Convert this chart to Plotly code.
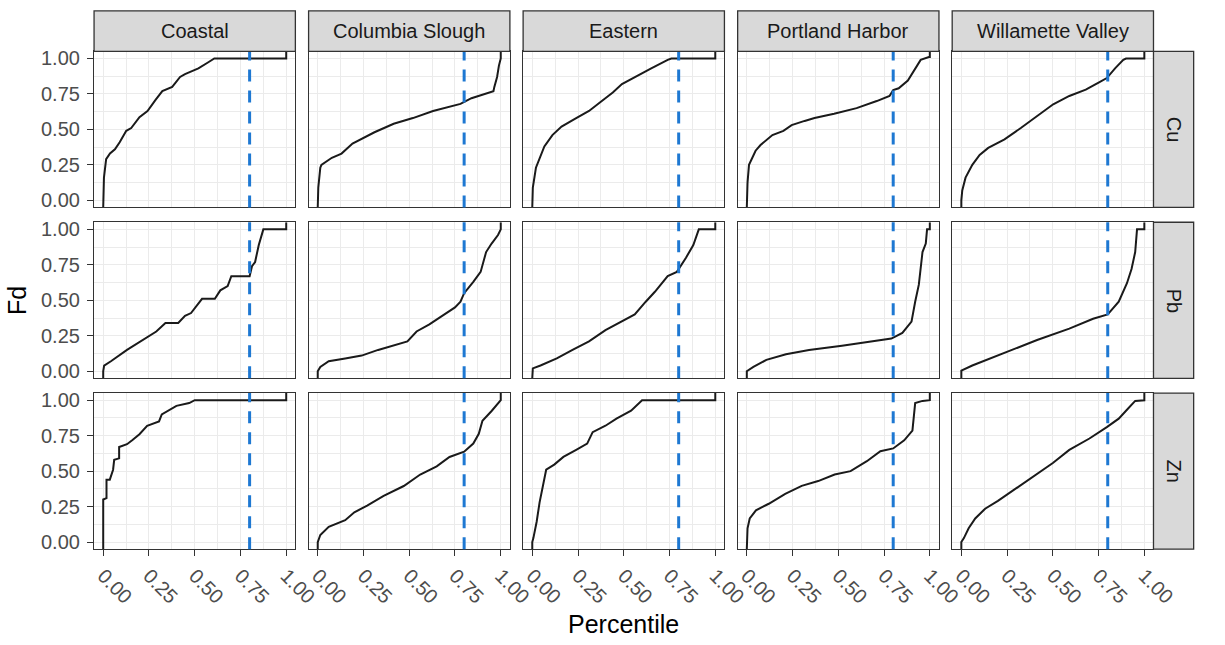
import plotly.graph_objects as go

# ---------------- data ----------------
REGIONS = ["Coastal", "Columbia Slough", "Eastern", "Portland Harbor", "Willamette Valley"]
METALS = ["Cu", "Pb", "Zn"]
TICK_VALS = [0.0, 0.25, 0.5, 0.75, 1.0]
TICK_TEXT = ["0.00", "0.25", "0.50", "0.75", "1.00"]
MINOR_VALS = [0.125, 0.375, 0.625, 0.875]
THRESHOLD = 0.8

# Cu
coastal_cu_x = [0, 0.004, 0.016, 0.037, 0.064, 0.09, 0.126, 0.153, 0.198, 0.242, 0.287, 0.323, 0.377, 0.42, 0.447, 0.52, 0.57, 0.607, 1.0]
coastal_cu_y = [0, 0.16, 0.29, 0.33, 0.36, 0.41, 0.49, 0.51, 0.586, 0.63, 0.71, 0.77, 0.80, 0.87, 0.89, 0.93, 0.97, 1.0, 1.0]
columbia_cu_x = [0, 0.003, 0.014, 0.02, 0.077, 0.13, 0.19, 0.22, 0.31, 0.415, 0.52, 0.63, 0.72, 0.78, 0.84, 0.91, 0.96, 0.965, 0.98, 0.99, 1.0]
columbia_cu_y = [0, 0.09, 0.23, 0.25, 0.30, 0.33, 0.40, 0.42, 0.48, 0.54, 0.58, 0.63, 0.66, 0.68, 0.72, 0.75, 0.77, 0.80, 0.87, 0.95, 1.0]
eastern_cu_x = [0, 0.003, 0.02, 0.04, 0.066, 0.11, 0.16, 0.24, 0.31, 0.38, 0.44, 0.49, 0.56, 0.65, 0.74, 0.76, 1.0]
eastern_cu_y = [0, 0.09, 0.23, 0.30, 0.38, 0.46, 0.52, 0.58, 0.63, 0.70, 0.76, 0.82, 0.87, 0.93, 0.99, 1.0, 1.0]
portland_cu_x = [0, 0.004, 0.012, 0.03, 0.048, 0.075, 0.11, 0.14, 0.2, 0.245, 0.316, 0.37, 0.477, 0.60, 0.71, 0.78, 0.80, 0.83, 0.88, 0.914, 0.95, 0.995, 1.0]
portland_cu_y = [0, 0.126, 0.25, 0.30, 0.35, 0.39, 0.43, 0.46, 0.49, 0.53, 0.56, 0.58, 0.61, 0.65, 0.70, 0.736, 0.777, 0.79, 0.845, 0.92, 0.99, 1.01, 1.01]
willamette_cu_x = [0, 0.005, 0.023, 0.06, 0.10, 0.147, 0.236, 0.325, 0.414, 0.502, 0.59, 0.68, 0.75, 0.795, 0.84, 0.885, 0.90, 1.0]
willamette_cu_y = [0, 0.07, 0.16, 0.25, 0.32, 0.37, 0.43, 0.51, 0.597, 0.677, 0.736, 0.78, 0.83, 0.862, 0.93, 0.99, 1.0, 1.0]

# Pb
coastal_pb_x = [0, 0.005, 0.042, 0.13, 0.22, 0.29, 0.34, 0.41, 0.447, 0.48, 0.54, 0.61, 0.64, 0.68, 0.70, 0.80, 0.813, 0.83, 0.85, 0.875, 1.0]
coastal_pb_y = [0, 0.04, 0.07, 0.15, 0.22, 0.28, 0.34, 0.34, 0.39, 0.41, 0.51, 0.51, 0.57, 0.60, 0.67, 0.67, 0.74, 0.77, 0.89, 1.0, 1.0]
columbia_pb_x = [0, 0.014, 0.06, 0.15, 0.24, 0.33, 0.415, 0.49, 0.54, 0.61, 0.68, 0.75, 0.78, 0.80, 0.85, 0.89, 0.92, 0.95, 0.985, 1.0]
columbia_pb_y = [0, 0.03, 0.07, 0.09, 0.11, 0.15, 0.18, 0.21, 0.28, 0.33, 0.39, 0.45, 0.49, 0.55, 0.63, 0.70, 0.84, 0.90, 0.96, 1.0]
eastern_pb_x = [0, 0.003, 0.045, 0.134, 0.22, 0.31, 0.40, 0.49, 0.56, 0.62, 0.67, 0.74, 0.79, 0.84, 0.88, 0.91, 1.0]
eastern_pb_y = [0, 0.02, 0.04, 0.09, 0.15, 0.21, 0.29, 0.35, 0.40, 0.49, 0.56, 0.67, 0.70, 0.80, 0.89, 1.0, 1.0]
portland_pb_x = [0, 0.036, 0.107, 0.214, 0.34, 0.52, 0.70, 0.79, 0.85, 0.90, 0.92, 0.94, 0.96, 0.978, 0.985, 1.0]
portland_pb_y = [0, 0.03, 0.08, 0.12, 0.15, 0.18, 0.21, 0.23, 0.27, 0.35, 0.49, 0.61, 0.84, 0.90, 1.0, 1.0]
willamette_pb_x = [0, 0.06, 0.236, 0.414, 0.59, 0.72, 0.80, 0.86, 0.905, 0.93, 0.95, 0.96, 1.0]
willamette_pb_y = [0.004, 0.04, 0.13, 0.22, 0.30, 0.37, 0.40, 0.49, 0.62, 0.72, 0.84, 1.0, 1.0]

# Zn
coastal_zn_x = [0, 0.018, 0.018, 0.036, 0.054, 0.06, 0.087, 0.087, 0.13, 0.16, 0.198, 0.24, 0.305, 0.32, 0.36, 0.40, 0.47, 0.50, 1.0]
coastal_zn_y = [0.30, 0.31, 0.44, 0.44, 0.51, 0.58, 0.59, 0.67, 0.69, 0.72, 0.76, 0.82, 0.85, 0.90, 0.93, 0.96, 0.98, 1.0, 1.0]
columbia_zn_x = [0, 0.014, 0.06, 0.15, 0.20, 0.27, 0.36, 0.47, 0.56, 0.65, 0.72, 0.80, 0.85, 0.88, 0.90, 0.95, 0.985, 1.0]
columbia_zn_y = [0, 0.05, 0.108, 0.154, 0.21, 0.257, 0.326, 0.395, 0.476, 0.534, 0.60, 0.637, 0.694, 0.763, 0.855, 0.924, 0.982, 1.0]
eastern_zn_x = [0, 0.006, 0.024, 0.04, 0.06, 0.076, 0.12, 0.17, 0.24, 0.30, 0.33, 0.40, 0.46, 0.54, 0.60, 1.0]
eastern_zn_y = [0, 0.028, 0.143, 0.28, 0.396, 0.51, 0.546, 0.60, 0.65, 0.694, 0.775, 0.82, 0.87, 0.926, 1.0, 1.0]
portland_zn_x = [0, 0.004, 0.016, 0.05, 0.12, 0.21, 0.30, 0.39, 0.48, 0.567, 0.656, 0.73, 0.80, 0.86, 0.905, 0.914, 0.92, 0.96, 1.0]
portland_zn_y = [0, 0.097, 0.166, 0.224, 0.27, 0.34, 0.396, 0.43, 0.476, 0.50, 0.57, 0.64, 0.66, 0.717, 0.786, 0.90, 0.98, 0.995, 1.0]
willamette_zn_x = [0, 0.014, 0.04, 0.076, 0.13, 0.20, 0.29, 0.396, 0.50, 0.59, 0.70, 0.795, 0.86, 0.91, 0.95, 1.0]
willamette_zn_y = [0, 0.028, 0.097, 0.166, 0.235, 0.29, 0.37, 0.465, 0.557, 0.65, 0.73, 0.81, 0.87, 0.94, 0.995, 1.0]

CURVES = {
    ("Coastal", "Cu"): (coastal_cu_x, coastal_cu_y),
    ("Columbia Slough", "Cu"): (columbia_cu_x, columbia_cu_y),
    ("Eastern", "Cu"): (eastern_cu_x, eastern_cu_y),
    ("Portland Harbor", "Cu"): (portland_cu_x, portland_cu_y),
    ("Willamette Valley", "Cu"): (willamette_cu_x, willamette_cu_y),
    ("Coastal", "Pb"): (coastal_pb_x, coastal_pb_y),
    ("Columbia Slough", "Pb"): (columbia_pb_x, columbia_pb_y),
    ("Eastern", "Pb"): (eastern_pb_x, eastern_pb_y),
    ("Portland Harbor", "Pb"): (portland_pb_x, portland_pb_y),
    ("Willamette Valley", "Pb"): (willamette_pb_x, willamette_pb_y),
    ("Coastal", "Zn"): (coastal_zn_x, coastal_zn_y),
    ("Columbia Slough", "Zn"): (columbia_zn_x, columbia_zn_y),
    ("Eastern", "Zn"): (eastern_zn_x, eastern_zn_y),
    ("Portland Harbor", "Zn"): (portland_zn_x, portland_zn_y),
    ("Willamette Valley", "Zn"): (willamette_zn_x, willamette_zn_y),
}

# ---------------- layout geometry (pixels) ----------------
W, H = 1225, 645
AX_RANGE = [-0.05, 1.05]
COL_X0, COL_STEP, PANEL_W = 95.0, 219.0, 205.5
ROW_Y0, ROW_STEP, PANEL_H = 48.0, 173.0, 158.0
STRIP = 41.0
FONT = "Liberation Sans, Arial, sans-serif"
BORDER = "#333333"
GRID = "#EBEBEB"

def fx(px):
    return px / W

def fy(py):
    return 1 - py / H

fig = go.Figure()
layout = dict(
    width=W, height=H, margin=dict(l=0, r=0, t=0, b=0),
    paper_bgcolor="white", plot_bgcolor="white", showlegend=False,
    font=dict(family=FONT),
)
shapes, annotations = [], []

for r, metal in enumerate(METALS):
    for c, region in enumerate(REGIONS):
        k = r * len(REGIONS) + c + 1
        xa = "x" if k == 1 else f"x{k}"
        ya = "y" if k == 1 else f"y{k}"
        left = COL_X0 + c * COL_STEP
        top = ROW_Y0 + r * ROW_STEP
        bottom_row = r == len(METALS) - 1
        left_col = c == 0
        common = dict(
            range=AX_RANGE, zeroline=False, showgrid=True, gridcolor=GRID, gridwidth=1.3,
            tickvals=TICK_VALS, ticktext=TICK_TEXT,
            minor=dict(tickvals=MINOR_VALS, showgrid=True, gridcolor=GRID, gridwidth=0.6, ticks=""),
            showline=True, linecolor=BORDER, linewidth=1.3, mirror=True,
            ticklen=6, tickwidth=1.2, tickcolor=BORDER,
            tickfont=dict(size=20, color="#4D4D4D", family=FONT),
            fixedrange=True,
        )
        layout["xaxis" if k == 1 else f"xaxis{k}"] = dict(
            common, domain=[fx(left), fx(left + PANEL_W)], anchor=ya,
            ticks="outside" if bottom_row else "", showticklabels=bottom_row, tickangle=45,
        )
        layout["yaxis" if k == 1 else f"yaxis{k}"] = dict(
            common, domain=[fy(top + PANEL_H), fy(top)], anchor=xa,
            ticks="outside" if left_col else "", showticklabels=left_col,
            ticklabelstandoff=3,
        )
        xs, ys = CURVES[(region, metal)]
        # ECDF padding to -Inf / +Inf (panel edges), as stat_ecdf(pad = TRUE)
        px_ = [xs[0]] + list(xs) + [xs[-1]]
        py_ = [AX_RANGE[0]] + list(ys) + [AX_RANGE[1]]
        fig.add_trace(go.Scatter(
            x=px_, y=py_, mode="lines", xaxis=xa, yaxis=ya,
            line=dict(color="#1A1A1A", width=2), hoverinfo="skip",
        ))
        shapes.append(dict(
            type="line", xref=xa, yref=f"{ya} domain", x0=THRESHOLD, x1=THRESHOLD, y0=0, y1=1,
            line=dict(color="#1E78D2", width=3, dash="12px,9px"), layer="above",
        ))

# column strips
for c, region in enumerate(REGIONS):
    left = COL_X0 + c * COL_STEP
    shapes.append(dict(type="rect", xref="paper", yref="paper",
                       x0=fx(left), x1=fx(left + PANEL_W), y0=fy(ROW_Y0), y1=fy(ROW_Y0 - STRIP),
                       fillcolor="#D9D9D9", line=dict(color=BORDER, width=1.3), layer="above"))
    annotations.append(dict(text=region, xref="paper", yref="paper",
                            x=fx(left + PANEL_W / 2), y=fy(ROW_Y0 - STRIP / 2),
                            showarrow=False, font=dict(size=20, color="#1A1A1A", family=FONT),
                            xanchor="center", yanchor="middle"))
# row strips
right = COL_X0 + (len(REGIONS) - 1) * COL_STEP + PANEL_W
for r, metal in enumerate(METALS):
    top = ROW_Y0 + r * ROW_STEP
    shapes.append(dict(type="rect", xref="paper", yref="paper",
                       x0=fx(right), x1=fx(right + STRIP), y0=fy(top + PANEL_H), y1=fy(top),
                       fillcolor="#D9D9D9", line=dict(color=BORDER, width=1.3), layer="above"))
    annotations.append(dict(text=metal, xref="paper", yref="paper",
                            x=fx(right + STRIP / 2), y=fy(top + PANEL_H / 2), textangle=90,
                            showarrow=False, font=dict(size=20, color="#1A1A1A", family=FONT),
                            xanchor="center", yanchor="middle"))

# axis titles
annotations.append(dict(text="Percentile", xref="paper", yref="paper",
                        x=fx(COL_X0 + (right - COL_X0) / 2), y=fy(628),
                        showarrow=False, font=dict(size=25, color="black", family=FONT),
                        xanchor="center", yanchor="middle"))
annotations.append(dict(text="Fd", xref="paper", yref="paper",
                        x=fx(17), y=fy(ROW_Y0 + (2 * ROW_STEP + PANEL_H) / 2), textangle=-90,
                        showarrow=False, font=dict(size=25, color="black", family=FONT),
                        xanchor="center", yanchor="middle"))

layout["shapes"] = shapes
layout["annotations"] = annotations
fig.update_layout(**layout)
fig.write_html("out.html")
